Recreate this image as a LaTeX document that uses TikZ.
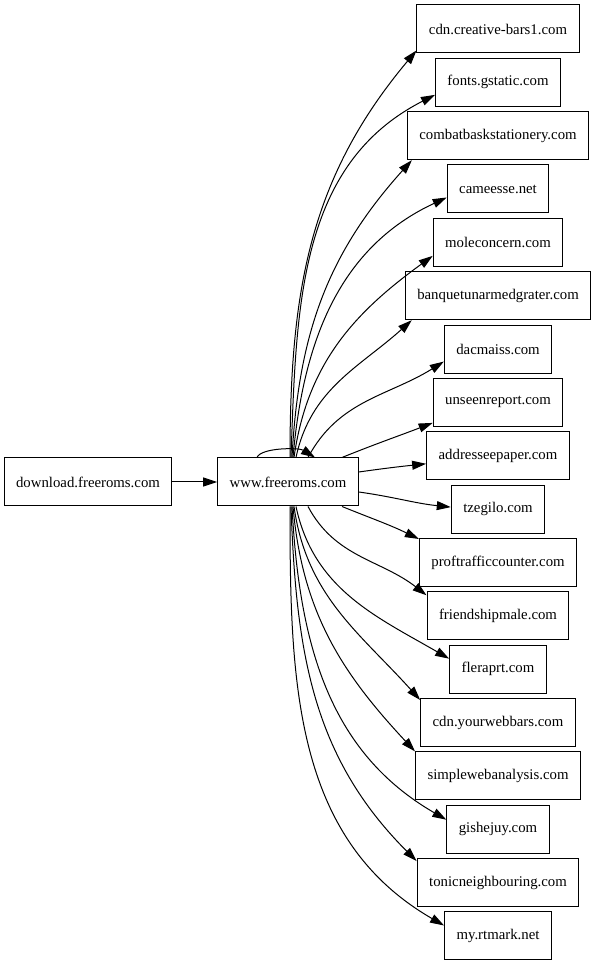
\documentclass[tikz,border=0pt]{standalone}
\usepackage{fontspec}
\setmainfont{Liberation Serif}
\usetikzlibrary{arrows.meta}
\tikzstyle{every picture}=[x=1pt, y=1pt, >={Triangle[length=14pt,width=9pt]}]
\tikzstyle{host}=[draw, rectangle, line width=1pt, minimum height=48pt, inner xsep=12pt, font=\fontsize{14.8}{17}\selectfont]
\tikzstyle{link}=[->, line width=1pt]

\begin{document}
\begin{tikzpicture}
	\useasboundingbox (0,0) rectangle (595,965);

	   \path (88,483) node[host] (h_0) {download.freeroms.com}
	   (288,483) node[host] (h_1) {www.freeroms.com}
	   (498,936) node[host] (t_1) {cdn.creative-bars1.com}
	   (498,882.6) node[host] (t_2) {fonts.gstatic.com}
	   (498,829.3) node[host] (t_3) {combatbaskstationery.com}
	   (498,776) node[host] (t_4) {cameesse.net}
	   (498,722.6) node[host] (t_5) {moleconcern.com}
	   (498,669.3) node[host] (t_6) {banquetunarmedgrater.com}
	   (498,615.9) node[host] (t_7) {dacmaiss.com}
	   (498,562.6) node[host] (t_8) {unseenreport.com}
	   (498,509.2) node[host] (t_9) {addresseepaper.com}
	   (498,455.9) node[host] (t_10) {tzegilo.com}
	   (498,402.5) node[host] (t_11) {proftrafficcounter.com}
	   (498,349.2) node[host] (t_12) {friendshipmale.com}
	   (498,295.8) node[host] (t_13) {fleraprt.com}
	   (498,242.5) node[host] (t_14) {cdn.yourwebbars.com}
	   (498,189.1) node[host] (t_15) {simplewebanalysis.com}
	   (498,135.8) node[host] (t_16) {gishejuy.com}
	   (498,82.4) node[host] (t_17) {tonicneighbouring.com}
	   (498,29) node[host] (t_18) {my.rtmark.net};

	\draw[link] (h_0) -- (h_1);
	\draw[link] ([xshift=-31pt]h_1.north) .. controls +(4,10) and +(-16,10) .. ([xshift=27pt]h_1.north);

	\draw[link] ([xshift=2pt]h_1.north) to[out=90,in=230] ([yshift=3pt]t_1.south west);
	\draw[link] ([xshift=3pt]h_1.north) to[out=88,in=207] ([yshift=12pt]t_2.south west);
	\draw[link] ([xshift=4pt]h_1.north) to[out=87,in=228] ([xshift=5pt]t_3.south west);
	\draw[link] ([xshift=5pt]h_1.north) to[out=85,in=205] ([yshift=16pt]t_4.south west);
	\draw[link] ([xshift=6pt]h_1.north) to[out=82,in=216] ([yshift=11pt]t_5.south west);
	\draw[link] ([xshift=8pt]h_1.north) to[out=78,in=222] ([xshift=7pt]t_6.south west);
	\draw[link] ([xshift=20pt]h_1.north) to[out=62,in=212] ([yshift=12pt]t_7.south west);
	\draw[link] ([xshift=54pt]h_1.north) to[out=22,in=201] ([yshift=4pt]t_8.south west);
	\draw[link] ([yshift=10pt]h_1.east) to[out=8,in=186] ([yshift=-8pt]t_9.west);
	\draw[link] ([yshift=-10pt]h_1.east) to[out=-8,in=174] ([yshift=2pt]t_10.west);
	\draw[link] ([xshift=54pt]h_1.south) to[out=-22,in=154] ([yshift=-1pt]t_11.north west);
	\draw[link] ([xshift=20pt]h_1.south) to[out=-62,in=142] ([yshift=-4pt]t_12.north west);
	\draw[link] ([xshift=8pt]h_1.south) to[out=-78,in=150] ([yshift=-14pt]t_13.north west);
	\draw[link] ([xshift=6pt]h_1.south) to[out=-82,in=132] ([yshift=-2pt]t_14.north west);
	\draw[link] ([xshift=5pt]h_1.south) to[out=-85,in=133] (t_15.north west);
	\draw[link] ([xshift=4pt]h_1.south) to[out=-87,in=150] ([yshift=-15pt]t_16.north west);
	\draw[link] ([xshift=3pt]h_1.south) to[out=-88,in=135] ([yshift=-3pt]t_17.north west);
	\draw[link] ([xshift=2pt]h_1.south) to[out=-90,in=150] ([yshift=-14pt]t_18.north west);

\end{tikzpicture}
\end{document}
